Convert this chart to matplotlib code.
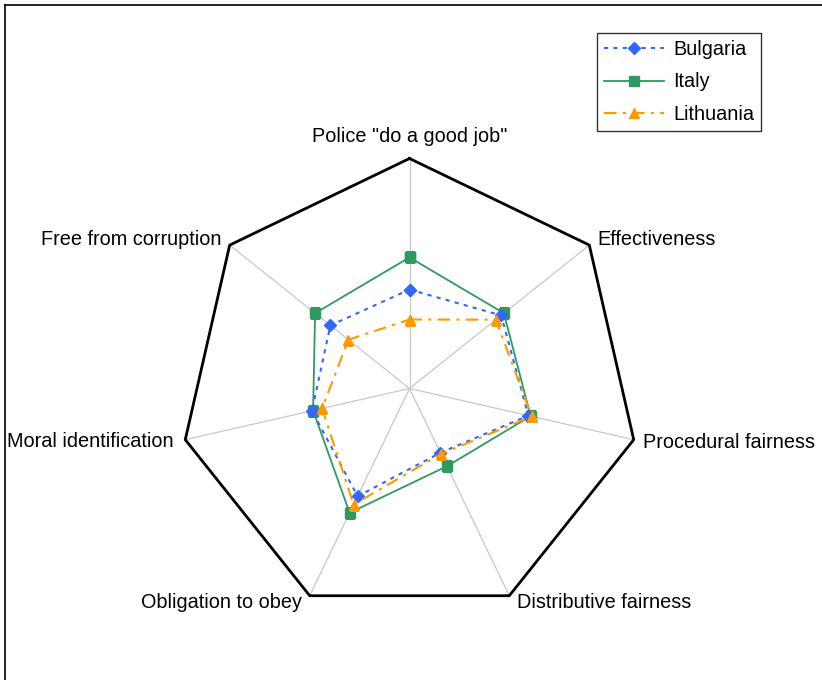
import matplotlib
matplotlib.use("Agg")
import matplotlib.pyplot as plt
from matplotlib.lines import Line2D
import numpy as np

plt.rcParams['font.family'] = ['Liberation Sans', 'DejaVu Sans']

categories = ['Police "do a good job"', 'Effectiveness', 'Procedural fairness',
              'Distributive fairness', 'Obligation to obey', 'Moral identification',
              'Free from corruption']
bulgaria = [0.43, 0.51, 0.53, 0.31, 0.52, 0.435, 0.44]
italy = [0.57, 0.525, 0.54, 0.375, 0.60, 0.43, 0.525]
lithuania = [0.30, 0.48, 0.545, 0.316, 0.56, 0.39, 0.34]

W, H = 822, 680
fig = plt.figure(figsize=(W / 100, H / 100), dpi=100)

# outer frame (only top and left edges are visible in the crop)
fig.add_artist(Line2D([5 / W, 5 / W], [0, 1 - 5 / H], color='black', lw=1.2))
fig.add_artist(Line2D([5 / W, 1], [1 - 5 / H, 1 - 5 / H], color='black', lw=1.2))

cx, cy, R = 409.5, 388.5, 230
ax = fig.add_axes([(cx - R) / W, (H - cy - R) / H, 2 * R / W, 2 * R / H], projection='polar')
ax.set_theta_offset(np.pi / 2)
ax.set_theta_direction(-1)
ax.set_ylim(0, 1)
ax.grid(False)
ax.spines['polar'].set_visible(False)
ax.patch.set_visible(False)
ax.set_xticks([])
ax.set_yticks([])

n = len(categories)
ang = np.arange(n) * 2 * np.pi / n
ang_c = np.append(ang, ang[0])

for a in ang:
    ax.plot([a, a], [0, 1], color='#C8C8C8', lw=0.9, zorder=1)
ax.plot(ang_c, np.ones(n + 1), color='black', lw=2.0, zorder=2, clip_on=False)


def closed(v):
    return np.append(v, v[0])


ax.plot(ang_c, closed(italy), color='#2E9B5E', lw=1.3, marker='s', ms=6.5,
        label='Italy', zorder=3)
ax.plot(ang_c, closed(bulgaria), color='#3366FF', lw=1.5, ls=(0, (2, 2.5)),
        marker='D', ms=6, label='Bulgaria', zorder=4)
ax.plot(ang_c, closed(lithuania), color='#FF9900', lw=1.5, ls=(0, (6, 3, 1.5, 3)),
        marker='^', ms=7.5, label='Lithuania', zorder=5)

# axis labels: offsets in pixels from the vertex (x right, y down)
label_pos = [
    (0, 16, 'center'),
    (8, 0, 'left'),
    (9, -8, 'left'),
    (8, -12, 'left'),
    (-8, -12, 'right'),
    (-12, -7, 'right'),
    (-8, 0, 'right'),
]
for i, (dx, dy, ha) in enumerate(label_pos):
    ax.annotate(categories[i], (ang[i], 1), xytext=(dx * 0.72, dy * 0.72),
                textcoords='offset points', ha=ha, va='baseline',
                fontsize=14.3, annotation_clip=False)

handles, labels = ax.get_legend_handles_labels()
order = [1, 0, 2]
leg = fig.legend([handles[k] for k in order], [labels[k] for k in order],
                 loc='upper left', bbox_to_anchor=(597 / W, 1 - 33 / H),
                 fontsize=14.3, frameon=True, fancybox=False, edgecolor='black',
                 handlelength=3.0, handletextpad=0.5, borderpad=0.35,
                 labelspacing=0.68, borderaxespad=0)
leg.get_frame().set_linewidth(1.0)

fig.savefig('out.png', dpi=100)
